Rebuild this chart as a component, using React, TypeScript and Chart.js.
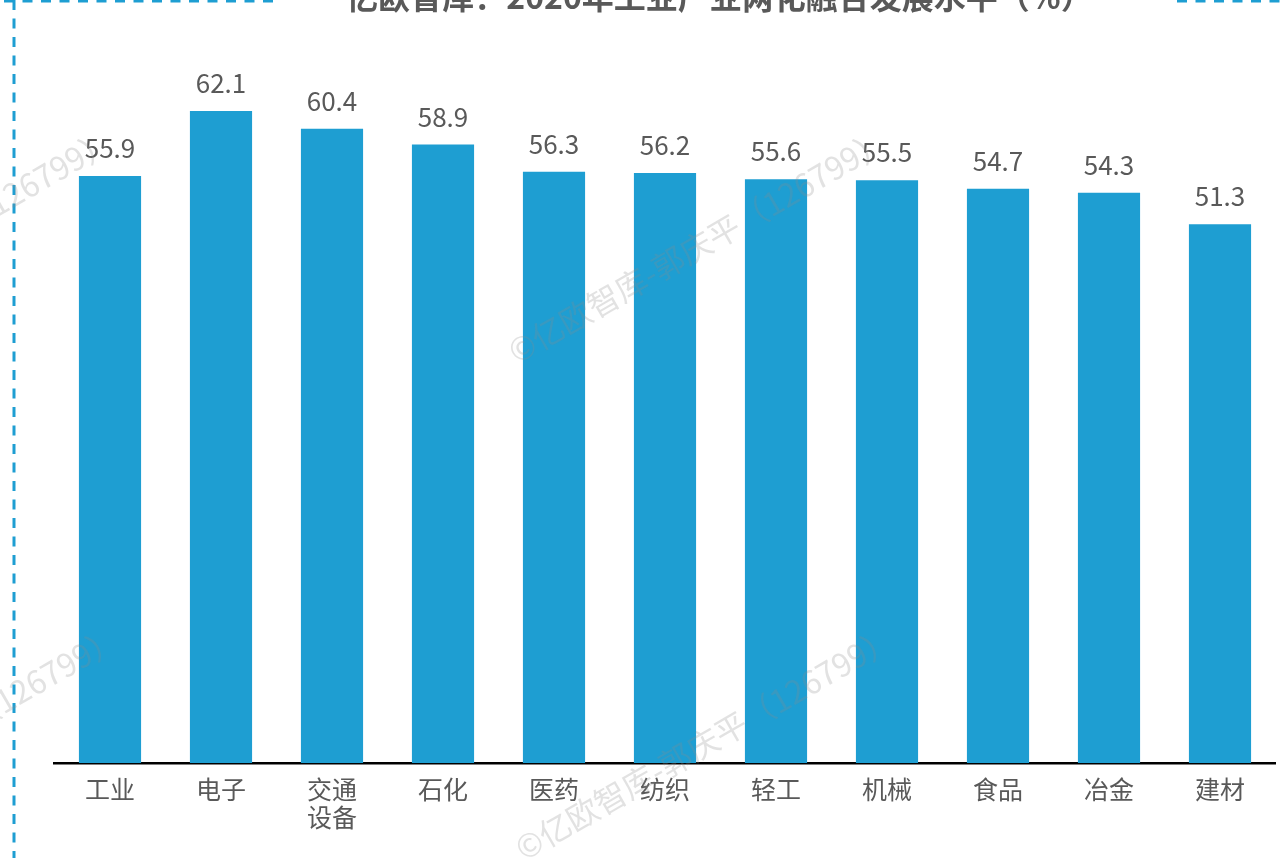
import React, { useEffect, useRef } from "react";
import { Chart, registerables } from "chart.js";

Chart.register(...registerables);

const TITLE = "亿欧智库：2020年工业产业两化融合发展水平（%）";
const CATEGORIES: (string | string[])[] = ["工业", "电子", ["交通", "设备"], "石化", "医药", "纺织", "轻工", "机械", "食品", "冶金", "建材"];
const VALUES = [55.9, 62.1, 60.4, 58.9, 56.3, 56.2, 55.6, 55.5, 54.7, 54.3, 51.3];
const WATERMARK = "©亿欧智库-郭庆平（126799）";

const BLUE = "#1E9ED2";
const TEXT = "#595959";
const FONT = "'Noto Sans CJK SC', 'Noto Sans', sans-serif";

const decorPlugin = {
  id: "decor",
  beforeDraw(chart: any) {
    const ctx = chart.ctx;
    ctx.save();
    ctx.strokeStyle = BLUE;
    ctx.lineWidth = 3;
    ctx.setLineDash([10, 8.5]);
    ctx.beginPath();
    ctx.moveTo(14, 0);
    ctx.lineTo(14, chart.height);
    ctx.stroke();
    ctx.beginPath();
    ctx.moveTo(4, 1);
    ctx.lineTo(276, 1);
    ctx.stroke();
    ctx.beginPath();
    ctx.moveTo(1177, 1);
    ctx.lineTo(chart.width, 1);
    ctx.stroke();
    ctx.restore();

    ctx.save();
    ctx.fillStyle = TEXT;
    ctx.font = `bold 32px ${FONT}`;
    ctx.textAlign = "center";
    ctx.textBaseline = "alphabetic";
    ctx.fillText(TITLE, 719.5, 9);
    ctx.restore();
  },
  afterDatasetsDraw(chart: any) {
    const ctx = chart.ctx;
    const meta = chart.getDatasetMeta(0);
    ctx.save();
    ctx.fillStyle = TEXT;
    ctx.font = `26px ${FONT}`;
    ctx.textAlign = "center";
    ctx.textBaseline = "alphabetic";
    meta.data.forEach((bar: any, i: number) => {
      ctx.fillText(VALUES[i].toFixed(1), bar.x, bar.y - 18);
    });
    ctx.restore();
  },
  afterDraw(chart: any) {
    const ctx = chart.ctx;
    ctx.save();
    ctx.fillStyle = "rgba(140,140,140,0.25)";
    ctx.font = `32px ${FONT}`;
    ctx.textAlign = "left";
    ctx.textBaseline = "middle";
    const spots = [
      [523, 350],
      [523 - 775, 350],
      [530, 847],
      [530 - 775, 847],
    ];
    spots.forEach(([x, y]) => {
      ctx.save();
      ctx.translate(x - 12, y + 4);
      ctx.rotate(-Math.PI / 6);
      ctx.fillText(WATERMARK, 0, 0);
      ctx.restore();
    });
    ctx.restore();
  },
};

export default function App() {
  const ref = useRef<HTMLCanvasElement | null>(null);

  useEffect(() => {
    document.body.style.margin = "0";
    if (!ref.current) return;
    const chart = new Chart(ref.current, {
      type: "bar",
      data: {
        labels: CATEGORIES,
        datasets: [
          {
            data: VALUES,
            backgroundColor: BLUE,
            categoryPercentage: 1,
            barPercentage: 0.56,
          },
        ],
      },
      options: {
        animation: false,
        responsive: false,
        devicePixelRatio: 1,
        layout: { padding: { top: 28, left: 54.5, right: 5.5, bottom: 0 } },
        plugins: {
          legend: { display: false },
          title: { display: false },
          tooltip: { enabled: false },
        },
        scales: {
          x: {
            grid: { display: false, drawTicks: false },
            border: { display: true, color: "#000000", width: 2.5 },
            ticks: {
              color: TEXT,
              font: { family: FONT, size: 25, lineHeight: 1.1 },
              padding: 13,
              maxRotation: 0,
              autoSkip: false,
            },
            afterFit(scale: any) {
              scale.height = 95;
            },
          },
          y: {
            display: false,
            min: 0,
            max: 70,
          },
        },
      },
      plugins: [decorPlugin],
    });
    return () => chart.destroy();
  }, []);

  return (
    <div style={{ width: 1281, height: 858, background: "#ffffff" }}>
      <canvas ref={ref} width={1281} height={858} style={{ display: "block" }} />
    </div>
  );
}
